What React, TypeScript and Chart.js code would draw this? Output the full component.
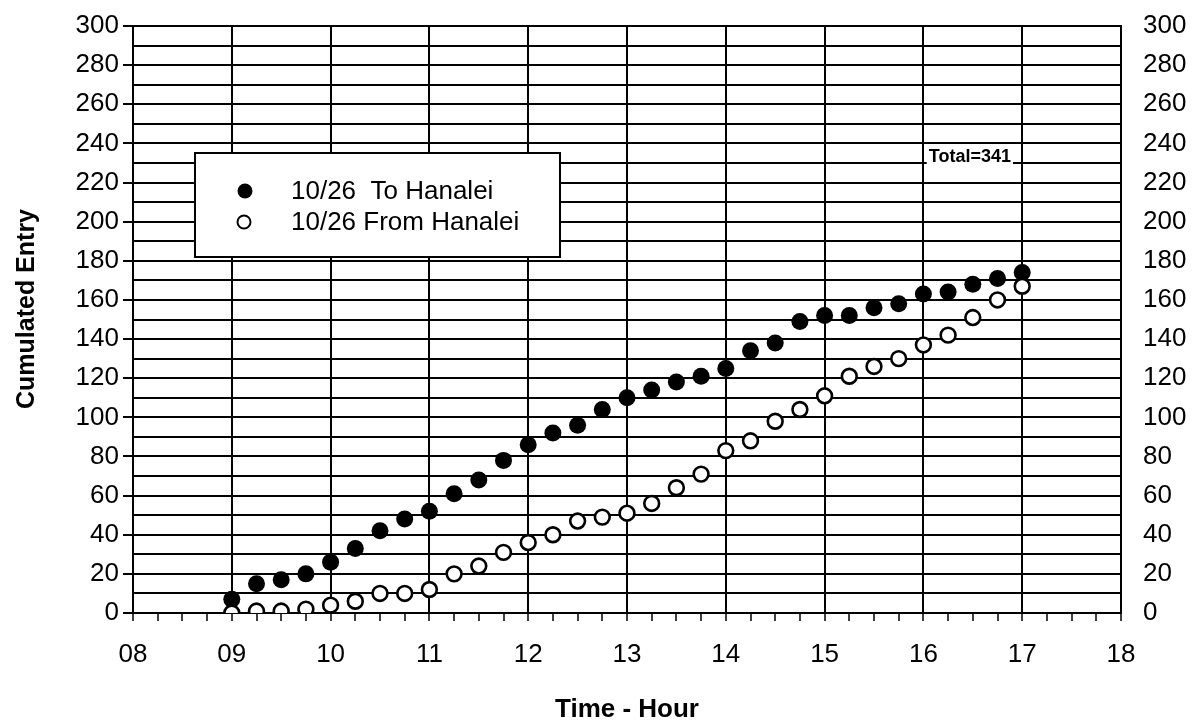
import React, { useEffect, useRef } from "react";
import { Chart, registerables } from "chart.js";

Chart.register(...registerables);

// Sampling times (every 15 minutes)
const times = [
  "09:00", "09:15", "09:30", "09:45",
  "10:00", "10:15", "10:30", "10:45",
  "11:00", "11:15", "11:30", "11:45",
  "12:00", "12:15", "12:30", "12:45",
  "13:00", "13:15", "13:30", "13:45",
  "14:00", "14:15", "14:30", "14:45",
  "15:00", "15:15", "15:30", "15:45",
  "16:00", "16:15", "16:30", "16:45",
  "17:00",
];

// Cumulated entries, 10/26
const toHanalei = [
  7, 15, 17, 20, 26, 33, 42, 48, 52, 61, 68, 78, 86, 92, 96, 104,
  110, 114, 118, 121, 125, 134, 138, 149, 152, 152, 156, 158, 163, 164, 168, 171,
  174,
];
const fromHanalei = [
  0, 1, 1, 2, 4, 6, 10, 10, 12, 20, 24, 31, 36, 40, 47, 49,
  51, 56, 64, 71, 83, 88, 98, 104, 111, 121, 126, 130, 137, 142, 151, 160,
  167,
];

const hourLabels = ["08", "09", "10", "11", "12", "13", "14", "15", "16", "17", "18"];

const seriesLabels = ["10/26  To Hanalei", "10/26 From Hanalei"];
const totalLabel = "Total=341";
const yTitle = "Cumulated Entry";
const xTitle = "Time - Hour";

const FONT = "'Liberation Sans', Arial, Helvetica, sans-serif";

const toHour = (t: string) => {
  const [h, m] = t.split(":").map(Number);
  return h + m / 60;
};

const annotations = {
  id: "annotations",
  afterDraw(chart: any) {
    const ctx = chart.ctx as CanvasRenderingContext2D;
    const xs = chart.scales.x;
    const ys = chart.scales.y;

    // Total label on a white patch
    ctx.save();
    ctx.font = `bold 18px ${FONT}`;
    const tx = xs.getPixelForValue(16.47);
    const ty = ys.getPixelForValue(233.5);
    const tw = ctx.measureText(totalLabel).width;
    ctx.fillStyle = "#fff";
    ctx.fillRect(tx - tw / 2 - 2, ty - 10, tw + 4, 20);
    ctx.fillStyle = "#000";
    ctx.textAlign = "center";
    ctx.textBaseline = "middle";
    ctx.fillText(totalLabel, tx, ty + 1);
    ctx.restore();

    // Legend box
    ctx.save();
    const bx = 195, by = 153, bw = 365, bh = 104;
    ctx.fillStyle = "#fff";
    ctx.fillRect(bx, by, bw, bh);
    ctx.strokeStyle = "#000";
    ctx.lineWidth = 2;
    ctx.strokeRect(bx, by, bw, bh);
    ctx.font = `26px ${FONT}`;
    ctx.textBaseline = "middle";
    ctx.textAlign = "left";
    const rows = [191, 222];
    // filled marker
    ctx.beginPath();
    ctx.arc(245, rows[0], 7.5, 0, Math.PI * 2);
    ctx.fillStyle = "#000";
    ctx.fill();
    // open marker
    ctx.beginPath();
    ctx.arc(244, rows[1], 6.5, 0, Math.PI * 2);
    ctx.fillStyle = "#fff";
    ctx.fill();
    ctx.lineWidth = 2;
    ctx.strokeStyle = "#000";
    ctx.stroke();
    ctx.fillStyle = "#000";
    ctx.fillText(seriesLabels[0], 291, rows[0] + 1);
    ctx.fillText(seriesLabels[1], 291, rows[1] + 1);
    ctx.restore();

    // Vertical axis title
    ctx.save();
    ctx.translate(27, 309);
    ctx.rotate(-Math.PI / 2);
    ctx.font = `bold 25px ${FONT}`;
    ctx.fillStyle = "#000";
    ctx.textAlign = "center";
    ctx.textBaseline = "middle";
    ctx.fillText(yTitle, 0, 0);
    ctx.restore();
  },
};

export default function App() {
  const canvasRef = useRef<HTMLCanvasElement | null>(null);

  useEffect(() => {
    if (!canvasRef.current) return;
    const hours = times.map(toHour);
    const tickFont = { family: FONT, size: 26 };

    const chart = new Chart(canvasRef.current, {
      type: "scatter",
      data: {
        datasets: [
          {
            label: seriesLabels[1],
            data: hours.map((x, i) => ({ x, y: fromHanalei[i] })),
            showLine: false,
            pointRadius: 7.4,
            pointHoverRadius: 7.4,
            pointBackgroundColor: "#fff",
            pointBorderColor: "#000",
            pointBorderWidth: 2.6,
            order: 1,
          },
          {
            label: seriesLabels[0],
            data: hours.map((x, i) => ({ x, y: toHanalei[i] })),
            showLine: false,
            pointRadius: 8.5,
            pointHoverRadius: 8.5,
            pointBackgroundColor: "#000",
            pointBorderColor: "#000",
            pointBorderWidth: 0,
            order: 2,
          },
        ],
      },
      options: {
        animation: false,
        responsive: false,
        maintainAspectRatio: false,
        layout: { padding: { top: 26, left: 0, right: 0, bottom: 0 } },
        plugins: {
          legend: { display: false },
          tooltip: { enabled: false },
        },
        scales: {
          x: {
            type: "linear",
            position: "bottom",
            min: 8,
            max: 18,
            ticks: {
              stepSize: 0.25,
              autoSkip: false,
              maxRotation: 0,
              padding: 18,
              color: "#000",
              font: tickFont,
              callback: (v: any) =>
                Number.isInteger(v) ? hourLabels[v - 8] : "",
            },
            grid: {
              color: (c: any) =>
                c.tick && Number.isInteger(c.tick.value) ? "#000" : "rgba(0,0,0,0)",
              lineWidth: 2,
              tickColor: "#000",
              tickLength: 8,
              tickWidth: 1.5,
            },
            border: { display: true, color: "#000", width: 2 },
            title: {
              display: true,
              text: xTitle,
              color: "#000",
              font: { family: FONT, size: 26, weight: "bold" },
              padding: 0,
            },
            afterFit: (s: any) => {
              s.height = 112;
              s.paddingLeft = 0;
              s.paddingRight = 0;
            },
          },
          y: {
            position: "left",
            min: 0,
            max: 300,
            ticks: {
              stepSize: 10,
              autoSkip: false,
              padding: 4,
              color: "#000",
              font: tickFont,
              callback: (v: any) => (v % 20 === 0 ? String(v) : ""),
            },
            grid: {
              color: "#000",
              lineWidth: 2,
              tickLength: 10,
              tickColor: (c: any) =>
                c.tick && c.tick.value % 20 === 0 ? "#000" : "rgba(0,0,0,0)",
            },
            border: { display: true, color: "#000", width: 2 },
            afterFit: (s: any) => {
              s.width = 133;
              s.paddingTop = 0;
              s.paddingBottom = 0;
            },
          },
          y2: {
            position: "right",
            min: 0,
            max: 300,
            ticks: {
              stepSize: 10,
              autoSkip: false,
              padding: 22,
              color: "#000",
              font: tickFont,
              callback: (v: any) => (v % 20 === 0 ? String(v) : ""),
            },
            grid: { drawOnChartArea: false, drawTicks: false },
            border: { display: true, color: "#000", width: 2 },
            afterFit: (s: any) => {
              s.width = 1194 - 1121;
              s.paddingTop = 0;
              s.paddingBottom = 0;
            },
          },
        },
      } as any,
      plugins: [annotations],
    });

    return () => chart.destroy();
  }, []);

  return (
    <div
      style={{
        position: "absolute",
        left: 0,
        top: 0,
        width: 1194,
        height: 725,
        background: "#fff",
      }}
    >
      <canvas ref={canvasRef} width={1194} height={725} />
    </div>
  );
}
